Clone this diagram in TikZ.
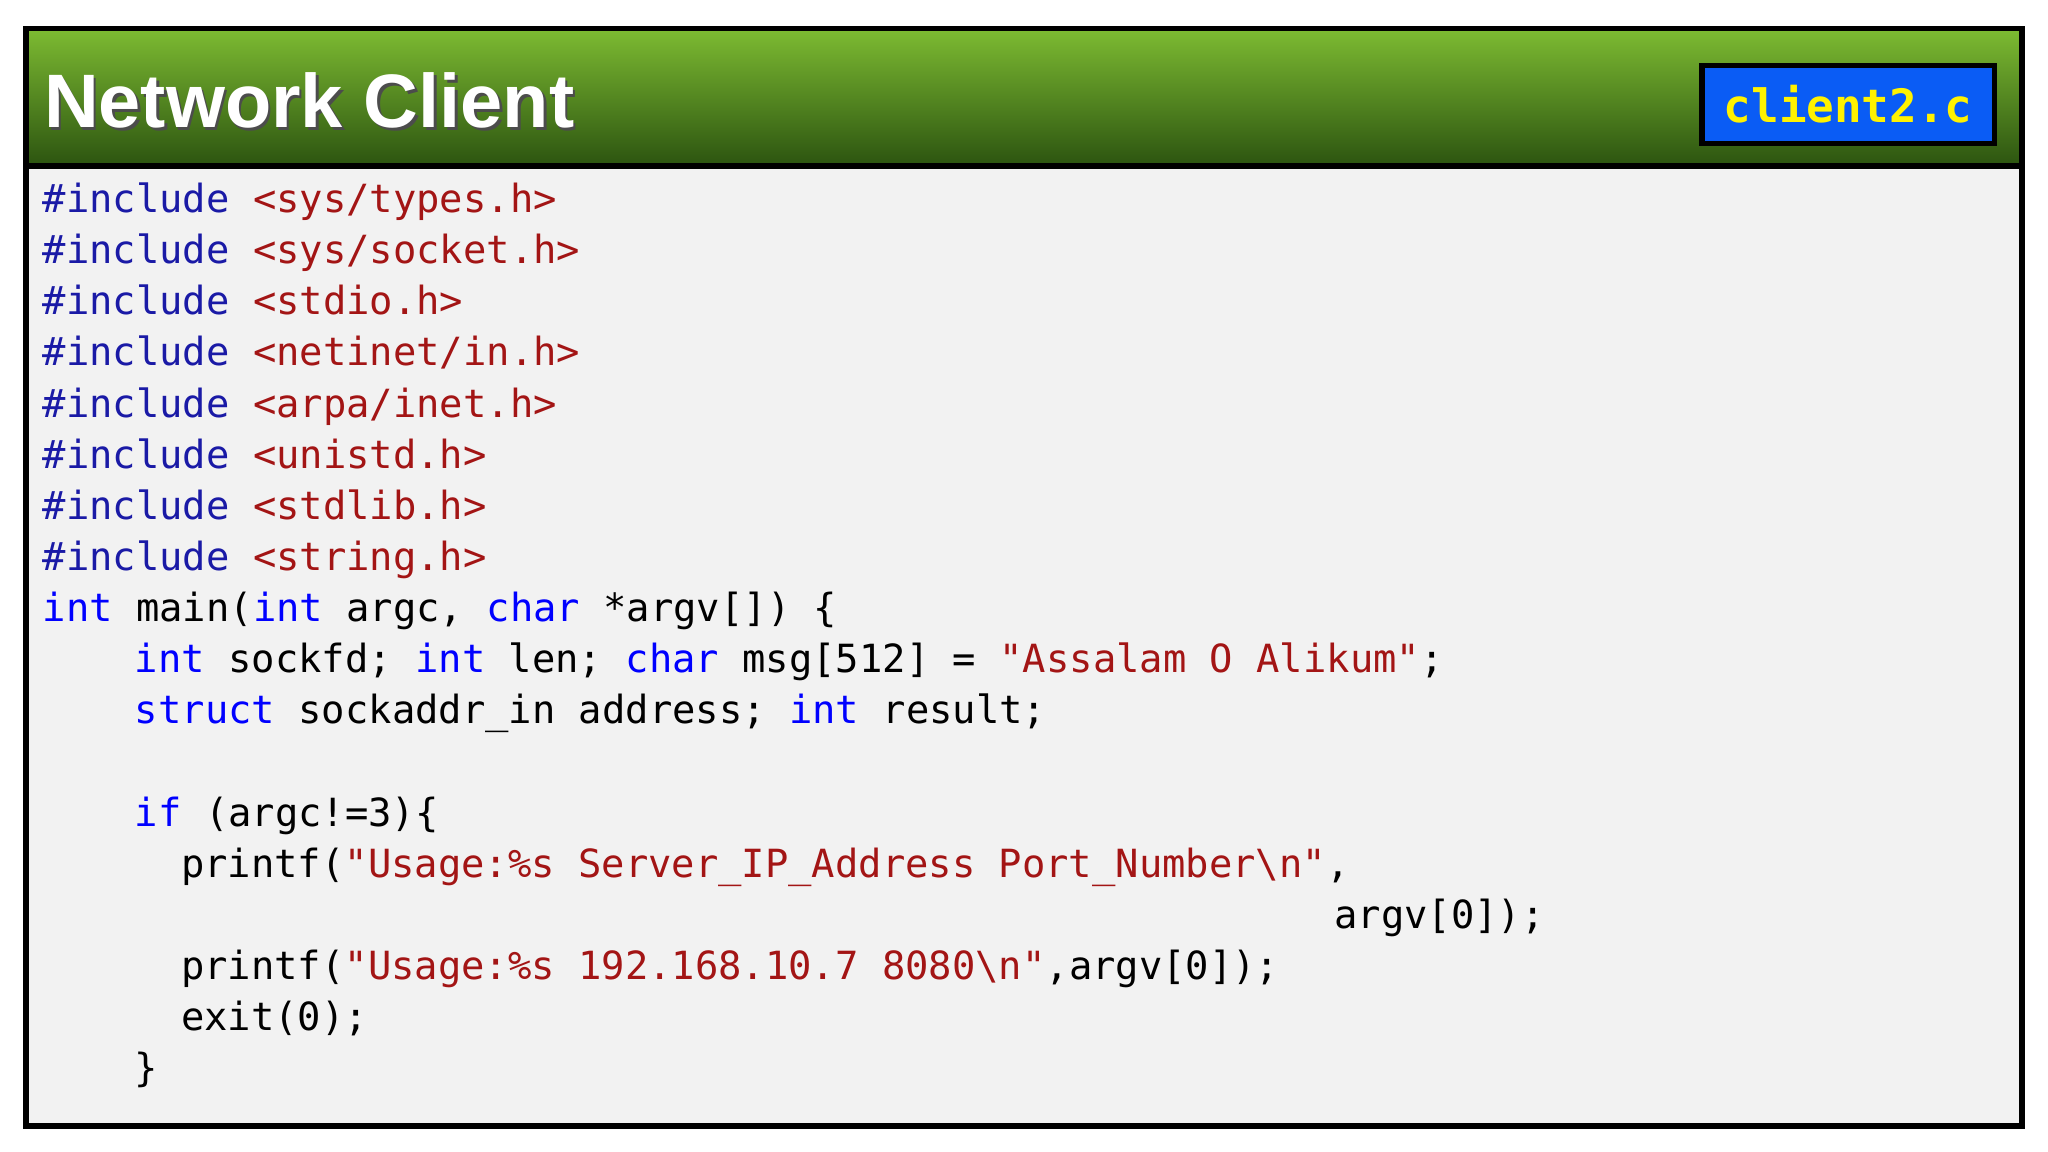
\documentclass[tikz,border=0pt]{standalone}
\usepackage{fontspec}
\setmainfont{Liberation Sans}
\newfontfamily\codefont{DejaVu Sans Mono}
\definecolor{inc}{HTML}{1A1AA6}
\definecolor{kw}{HTML}{0000FF}
\definecolor{str}{HTML}{A31515}
\definecolor{bodybg}{HTML}{F2F2F2}
\definecolor{gtop}{HTML}{7DBB32}
\definecolor{gbot}{HTML}{2C5410}
\definecolor{boxblue}{HTML}{0A5CF5}
\newcommand\I{\textcolor{inc}{\#include}}
\newcommand\K[1]{\textcolor{kw}{#1}}
\newcommand\St[1]{\textcolor{str}{#1}}
\newcommand\ind[1]{\hspace*{#1\dimexpr 0.1765cm\relax}}
\tikzset{code/.style={anchor=base west,inner sep=0pt,font=\codefont\fontsize{8.45pt}{10pt}\selectfont}}
\begin{document}
\begin{tikzpicture}[x=0.01cm,y=0.01cm]
\useasboundingbox (0,0) rectangle (1568,882);
\fill[white] (0,0) rectangle (1568,882);
\fill[bodybg] (20,20) rectangle (1548,755);
\shade[top color=gtop,bottom color=gbot] (20,755) rectangle (1548,860);
\draw[line width=1.2pt] (20,20) rectangle (1548,860);
\draw[line width=1.2pt] (20,755) -- (1548,755);
\node[anchor=west,inner sep=0pt,text=black!70,font=\bfseries\fontsize{16.5pt}{18pt}\selectfont] (tsh) at (35,803) {Network Client};
\node[anchor=west,inner sep=0pt,text=white,font=\bfseries\fontsize{16.5pt}{18pt}\selectfont] (title) at (33,805) {Network Client};
\node[draw=black,line width=1.2pt,fill=boxblue,minimum width=2.24cm,minimum height=0.6cm,inner sep=0pt,text=yellow,font=\codefont\bfseries\fontsize{10pt}{12pt}\selectfont] (file) at (1415,802) {client2.c};
\node[code] (l1) at (32,719) {\I{} \St{<sys/types.h>}};
\node[code] (l2) at (32,680) {\I{} \St{<sys/socket.h>}};
\node[code] (l3) at (32,641) {\I{} \St{<stdio.h>}};
\node[code] (l4) at (32,602) {\I{} \St{<netinet/in.h>}};
\node[code] (l5) at (32,562) {\I{} \St{<arpa/inet.h>}};
\node[code] (l6) at (32,523) {\I{} \St{<unistd.h>}};
\node[code] (l7) at (32,484) {\I{} \St{<stdlib.h>}};
\node[code] (l8) at (32,445) {\I{} \St{<string.h>}};
\node[code] (l9) at (32,406) {\K{int} main(\K{int} argc, \K{char} *argv[]) \{};
\node[code] (l10) at (32,367) {\ind{4}\K{int} sockfd; \K{int} len; \K{char} msg[512] = \St{"Assalam O Alikum"};};
\node[code] (l11) at (32,328) {\ind{4}\K{struct} sockaddr\_in address; \K{int} result;};
\node[code] (l12) at (32,249) {\ind{4}\K{if} (argc!=3)\{};
\node[code] (l13) at (32,210) {\ind{6}printf(\St{"Usage:\%s Server\_IP\_Address Port\_Number\textbackslash n"},};
\node[code] (l14) at (32,171) {\ind{56}argv[0]);};
\node[code] (l15) at (32,132) {\ind{6}printf(\St{"Usage:\%s 192.168.10.7 8080\textbackslash n"},argv[0]);};
\node[code] (l16) at (32,93) {\ind{6}exit(0);};
\node[code] (l17) at (32,54) {\ind{4}\}};
\end{tikzpicture}
\end{document}
